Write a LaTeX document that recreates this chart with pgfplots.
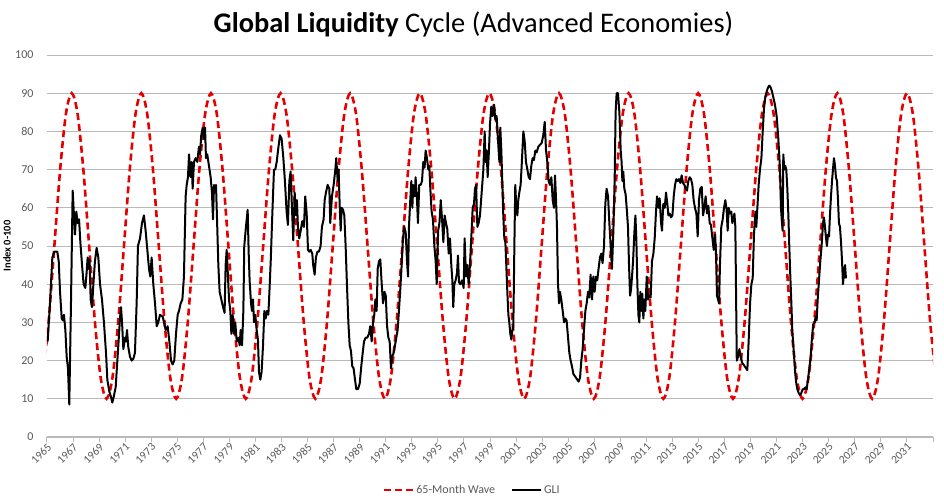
\documentclass[border=0pt]{standalone}
\usepackage{pgfplots}
\pgfplotsset{compat=1.18}
\usepackage{fontspec}
\setmainfont{Carlito}
\definecolor{wavered}{RGB}{228,0,0}
\definecolor{ticktext}{RGB}{89,89,89}
\definecolor{gridgray}{RGB}{185,185,185}
\begin{document}
\begin{tikzpicture}[x=1pt,y=1pt]
\useasboundingbox (-47,-65) rectangle (897,437);
\begin{axis}[
  at={(0,0)}, anchor=south west,
  scale only axis, width=886pt, height=382pt,
  xmin=1965, xmax=2033, ymin=0, ymax=100,
  axis x line*=bottom, axis y line*=left,
  y axis line style={draw=none},
  x axis line style={draw=gridgray, line width=1pt},
  ytick={0,10,...,100},
  ytick style={draw=none},
  ymajorgrids,
  grid style={draw=gridgray, line width=0.9pt},
  xtick={1965,1967,...,2033},
  xticklabels={1965,1967,1969,1971,1973,1975,1977,1979,1981,1983,1985,1987,1989,1991,1993,1995,1997,1999,2001,2003,2005,2007,2009,2011,2013,2015,2017,2019,2021,2023,2025,2027,2029,2031,{}},
  tick align=outside,
  major tick length=5pt,
  xtick style={draw=gridgray, line width=1pt},
  /pgf/number format/assume math mode=true,
  yticklabel style={font=\fontsize{12}{14}\selectfont, text=ticktext, xshift=-5pt},
  xticklabel style={font=\fontsize{11.5}{13}\selectfont, text=ticktext, rotate=45, anchor=east, xshift=3pt, yshift=-4pt},
  ylabel={\bfseries Index 0-100},
  ylabel style={font=\fontsize{10.5}{12}\selectfont, text=black, at={([xshift=-40pt]axis description cs:0,0.5)}, anchor=center},
  legend style={at={(axis description cs:0.48,-0.139)}, anchor=center, draw=none, fill=none,
    font=\fontsize{12}{14}\selectfont, text=ticktext, legend columns=2,
    /tikz/every even column/.append style={column sep=14pt}},
  legend image code/.code={\draw[#1] (0pt,0pt) -- (29pt,0pt);},
]
\addplot[wavered, line width=2.6pt, dash pattern=on 7pt off 4pt, smooth] coordinates {
(1964.674,15.36) (1965.119,30) (1965.564,50) (1966.010,70) (1966.455,84.64)
(1966.900,90) (1967.345,84.64) (1967.790,70) (1968.236,50) (1968.681,30) (1969.126,15.36) (1969.571,10) (1970.016,15.36) (1970.461,30) (1970.907,50) (1971.352,70) (1971.797,84.64)
(1972.242,90) (1972.687,84.64) (1973.132,70) (1973.578,50) (1974.023,30) (1974.468,15.36) (1974.913,10) (1975.358,15.36) (1975.803,30) (1976.249,50) (1976.694,70) (1977.139,84.64)
(1977.584,90) (1978.029,84.64) (1978.474,70) (1978.920,50) (1979.365,30) (1979.810,15.36) (1980.255,10) (1980.700,15.36) (1981.145,30) (1981.591,50) (1982.036,70) (1982.481,84.64)
(1982.926,90) (1983.371,84.64) (1983.816,70) (1984.262,50) (1984.707,30) (1985.152,15.36) (1985.597,10) (1986.042,15.36) (1986.487,30) (1986.933,50) (1987.378,70) (1987.823,84.64)
(1988.268,90) (1988.713,84.64) (1989.158,70) (1989.604,50) (1990.049,30) (1990.494,15.36) (1990.939,10) (1991.384,15.36) (1991.829,30) (1992.275,50) (1992.720,70) (1993.165,84.64)
(1993.610,90) (1994.055,84.64) (1994.500,70) (1994.946,50) (1995.391,30) (1995.836,15.36) (1996.281,10) (1996.726,15.36) (1997.171,30) (1997.617,50) (1998.062,70) (1998.507,84.64)
(1998.952,90) (1999.397,84.64) (1999.842,70) (2000.288,50) (2000.733,30) (2001.178,15.36) (2001.623,10) (2002.068,15.36) (2002.513,30) (2002.959,50) (2003.404,70) (2003.849,84.64)
(2004.294,90) (2004.739,84.64) (2005.184,70) (2005.630,50) (2006.075,30) (2006.520,15.36) (2006.965,10) (2007.410,15.36) (2007.855,30) (2008.301,50) (2008.746,70) (2009.191,84.64)
(2009.636,90) (2010.081,84.64) (2010.526,70) (2010.972,50) (2011.417,30) (2011.862,15.36) (2012.307,10) (2012.752,15.36) (2013.197,30) (2013.643,50) (2014.088,70) (2014.533,84.64)
(2014.978,90) (2015.423,84.64) (2015.868,70) (2016.314,50) (2016.759,30) (2017.204,15.36) (2017.649,10) (2018.094,15.36) (2018.539,30) (2018.985,50) (2019.430,70) (2019.875,84.64)
(2020.320,90) (2020.765,84.64) (2021.210,70) (2021.656,50) (2022.101,30) (2022.546,15.36) (2022.991,10) (2023.436,15.36) (2023.881,30) (2024.327,50) (2024.772,70) (2025.217,84.64)
(2025.662,90) (2026.107,84.64) (2026.552,70) (2026.998,50) (2027.443,30) (2027.888,15.36) (2028.333,10) (2028.778,15.36) (2029.223,30) (2029.669,50) (2030.114,70) (2030.559,84.64)
(2031.004,90) (2031.449,84.64) (2031.894,70) (2032.340,50) (2032.785,30) (2033.230,15.36)
};
\addlegendentry{65-Month Wave}
\addplot[black, line width=2pt, line join=round] coordinates {
(1965.05,25) (1965.23,35) (1965.41,47) (1965.56,48.5) (1965.79,48.5) (1965.90,46) (1966.00,38) (1966.13,31) (1966.23,30.5) (1966.30,32) (1966.41,28) (1966.51,21) (1966.61,18) (1966.71,8.5) (1966.84,35) (1966.97,64.5)
(1967.07,58) (1967.15,53) (1967.25,59) (1967.35,56) (1967.46,57) (1967.56,51) (1967.69,45) (1967.81,40) (1967.94,39) (1968.04,43) (1968.12,47) (1968.20,44) (1968.27,46.5) (1968.35,36) (1968.45,34) (1968.56,40) (1968.68,46) (1968.81,49.5) (1968.94,47)
(1969.07,40) (1969.22,36) (1969.37,30) (1969.53,22) (1969.63,15) (1969.78,12) (1969.91,10.5) (1970.01,9) (1970.12,10.5) (1970.27,13) (1970.40,20) (1970.53,27) (1970.60,31) (1970.68,34) (1970.76,30) (1970.86,23) (1970.99,26)
(1971.06,25) (1971.14,28) (1971.24,23.5) (1971.37,21) (1971.50,20) (1971.63,20.5) (1971.75,22) (1971.88,35) (1971.98,50) (1972.14,52) (1972.29,56) (1972.44,58) (1972.57,54) (1972.70,49) (1972.83,44) (1972.93,42)
(1973.03,47) (1973.16,40) (1973.29,35) (1973.42,29) (1973.54,30) (1973.67,32) (1973.88,31.5) (1973.98,30) (1974.11,28) (1974.26,29) (1974.39,25) (1974.52,20) (1974.64,19) (1974.77,20) (1974.90,27)
(1975.03,32) (1975.13,33) (1975.26,35) (1975.39,36) (1975.51,42) (1975.64,63) (1975.72,66) (1975.82,68) (1975.90,74) (1976.02,68) (1976.10,72) (1976.18,65) (1976.28,72) (1976.41,73) (1976.54,72) (1976.66,76) (1976.74,74) (1976.84,79) (1976.95,81)
(1977.05,78) (1977.13,81) (1977.20,73) (1977.30,74) (1977.43,71) (1977.56,68) (1977.66,64) (1977.74,57) (1977.82,66) (1977.89,64) (1977.97,66) (1978.05,57) (1978.15,45) (1978.25,38) (1978.38,36) (1978.51,34) (1978.63,32.5) (1978.71,45) (1978.79,49) (1978.89,42) (1978.97,36)
(1979.07,33) (1979.15,27) (1979.25,32) (1979.35,27) (1979.45,30) (1979.56,25) (1979.68,26) (1979.79,24) (1979.86,28) (1979.97,24) (1980.07,33) (1980.14,50) (1980.27,55) (1980.40,59.5) (1980.48,48) (1980.55,41) (1980.66,35) (1980.73,33) (1980.81,36) (1980.89,30) (1980.99,32)
(1981.09,28) (1981.19,25.5) (1981.27,17) (1981.37,15) (1981.47,17) (1981.58,24) (1981.68,33) (1981.78,31) (1981.88,33) (1981.99,32) (1982.07,38) (1982.17,46) (1982.29,58) (1982.42,70) (1982.52,70) (1982.63,72) (1982.73,75) (1982.88,79)
(1983.01,78) (1983.14,73) (1983.26,67) (1983.39,59) (1983.49,55.5) (1983.60,67) (1983.70,69.5) (1983.80,60) (1983.90,51.5) (1984.01,64) (1984.11,58) (1984.18,62) (1984.26,55) (1984.36,52) (1984.47,54) (1984.59,56.5) (1984.72,55) (1984.82,63) (1984.93,58.5)
(1985.03,49) (1985.13,48.5) (1985.23,49) (1985.36,48) (1985.43,45) (1985.54,42.5) (1985.64,47) (1985.75,48.5) (1985.87,48.5) (1986.00,50) (1986.10,55) (1986.23,57) (1986.31,62) (1986.41,64) (1986.54,66) (1986.67,65) (1986.74,56) (1986.87,63)
(1987.00,66) (1987.13,70) (1987.20,73) (1987.31,67) (1987.38,70) (1987.46,61) (1987.54,54) (1987.61,60) (1987.72,59.5) (1987.82,58) (1987.92,50) (1988.02,40) (1988.13,30) (1988.23,24) (1988.33,22.5) (1988.43,18.5) (1988.53,18) (1988.64,15) (1988.74,12.5) (1988.87,12.5)
(1989.00,14) (1989.12,18.5) (1989.23,22) (1989.33,25) (1989.46,26) (1989.58,26) (1989.71,27) (1989.81,29) (1989.92,25) (1990.02,30) (1990.12,32) (1990.20,36) (1990.30,33) (1990.38,44) (1990.48,46) (1990.58,46.5) (1990.69,40) (1990.79,35) (1990.90,38)
(1991.00,37) (1991.10,29) (1991.20,26) (1991.30,25) (1991.40,18) (1991.50,21) (1991.60,22) (1991.71,24) (1991.81,26) (1991.91,28) (1992.01,33) (1992.12,39) (1992.22,45) (1992.32,52) (1992.42,55) (1992.53,53.5) (1992.63,46) (1992.71,42) (1992.78,55) (1992.88,62) (1992.96,67)
(1993.04,60) (1993.11,66) (1993.22,63) (1993.29,68) (1993.40,62) (1993.47,56) (1993.57,66) (1993.68,66) (1993.78,67) (1993.88,72) (1993.98,70.5) (1994.06,75) (1994.16,73) (1994.27,70) (1994.34,71) (1994.42,65) (1994.52,59) (1994.62,57) (1994.73,50) (1994.83,46) (1994.91,40)
(1995.02,54) (1995.12,56) (1995.22,62) (1995.32,57) (1995.42,51) (1995.52,58) (1995.62,56) (1995.72,54.5) (1995.83,48) (1995.93,52) (1996.03,45) (1996.11,41) (1996.18,34) (1996.26,40) (1996.36,41) (1996.47,43) (1996.54,47.5) (1996.62,40.5) (1996.72,40) (1996.85,41) (1996.98,39)
(1997.05,52) (1997.16,42) (1997.26,45) (1997.36,40) (1997.46,45) (1997.59,54) (1997.67,60) (1997.77,61) (1997.85,65) (1997.93,66) (1998.03,55) (1998.13,56) (1998.23,58) (1998.36,64) (1998.49,70) (1998.59,80) (1998.67,72) (1998.74,75) (1998.82,68) (1998.92,75)
(1999.00,82) (1999.10,86.5) (1999.20,84) (1999.31,87) (1999.41,83) (1999.51,84) (1999.61,78) (1999.72,72) (1999.79,81) (1999.87,75) (1999.95,66) (2000.02,58) (2000.10,52) (2000.18,51) (2000.25,45) (2000.33,38) (2000.41,32) (2000.48,30) (2000.56,27) (2000.64,25.5) (2000.72,28) (2000.79,29) (2000.87,50) (2000.94,66)
(2001.02,60) (2001.10,58) (2001.17,62) (2001.25,64) (2001.35,66) (2001.43,71) (2001.56,80) (2001.66,77.5) (2001.76,72) (2001.87,70) (2001.97,68) (2002.07,67.5) (2002.17,71) (2002.27,73) (2002.37,72.5) (2002.48,75) (2002.58,74.5) (2002.71,76) (2002.84,76.5) (2002.97,77)
(2003.09,79) (2003.20,82.5) (2003.30,75) (2003.40,72) (2003.50,67) (2003.60,66) (2003.71,68) (2003.81,62) (2003.91,60) (2003.99,68.5) (2004.07,62) (2004.14,55) (2004.22,40) (2004.30,35) (2004.37,38) (2004.47,36) (2004.58,33) (2004.68,30) (2004.78,31) (2004.88,30.5) (2004.99,26)
(2005.09,22) (2005.19,20) (2005.29,18.5) (2005.40,16.5) (2005.50,16) (2005.60,15.5) (2005.70,15) (2005.80,14.5) (2005.91,15.5) (2006.01,20) (2006.11,23) (2006.21,28) (2006.32,33) (2006.42,35) (2006.52,38) (2006.62,36.5) (2006.72,42.5) (2006.83,36) (2006.93,42)
(2007.03,38) (2007.13,42) (2007.23,41) (2007.33,44) (2007.44,47) (2007.54,48) (2007.64,45.5) (2007.75,50) (2007.85,61) (2007.95,65) (2008.06,63) (2008.16,56) (2008.26,50) (2008.36,44) (2008.47,54) (2008.57,68) (2008.64,85) (2008.72,90) (2008.82,90) (2008.93,85)
(2009.03,75) (2009.10,72) (2009.16,67) (2009.23,69.5) (2009.31,65) (2009.41,63.5) (2009.49,60) (2009.59,55) (2009.67,45) (2009.75,37) (2009.82,38.5) (2009.90,42) (2009.98,46) (2010.08,53.5) (2010.16,58) (2010.23,52) (2010.31,40) (2010.39,32) (2010.46,30) (2010.54,38) (2010.62,33) (2010.69,37.5) (2010.77,31) (2010.85,36) (2010.92,33)
(2011.03,42) (2011.13,36) (2011.23,37) (2011.33,36.5) (2011.43,46) (2011.54,48) (2011.64,52) (2011.74,59) (2011.82,63) (2011.92,60) (2012.02,62.5) (2012.13,56) (2012.20,54) (2012.30,61) (2012.41,60) (2012.51,64) (2012.61,61) (2012.69,58) (2012.79,58.5) (2012.89,57.5)
(2013.00,58) (2013.10,63) (2013.20,66) (2013.30,67.5) (2013.40,67) (2013.51,67.5) (2013.61,66.5) (2013.71,68.5) (2013.81,66.5) (2013.92,66) (2014.02,65) (2014.12,64.5) (2014.22,67) (2014.33,68) (2014.43,67.5) (2014.53,66) (2014.63,62) (2014.73,60) (2014.84,58.5) (2014.94,52.5)
(2015.04,62) (2015.14,65) (2015.25,65.5) (2015.35,58) (2015.45,60) (2015.55,63) (2015.66,58.5) (2015.76,60.5) (2015.86,56) (2015.96,55.5) (2016.07,52) (2016.17,49) (2016.27,53) (2016.35,47.5) (2016.42,37) (2016.50,36) (2016.58,35) (2016.65,45) (2016.75,55) (2016.86,57) (2016.96,60)
(2017.06,62) (2017.16,59.5) (2017.24,54) (2017.32,60) (2017.42,58.5) (2017.52,59) (2017.60,56) (2017.68,57) (2017.76,58.5) (2017.83,55) (2017.94,20) (2018.04,21) (2018.14,23) (2018.24,21) (2018.34,19.5) (2018.45,19) (2018.55,18.5) (2018.65,18) (2018.75,17.5) (2018.85,25) (2018.96,35)
(2019.06,40) (2019.16,41.5) (2019.26,53) (2019.37,59) (2019.44,55) (2019.52,60) (2019.62,66) (2019.72,70) (2019.83,73) (2019.93,80) (2020.03,86) (2020.13,89) (2020.24,90.5) (2020.34,91.5) (2020.44,92) (2020.54,91.5) (2020.64,90.5) (2020.74,89) (2020.87,87)
(2021.00,84) (2021.13,78) (2021.26,70) (2021.33,60) (2021.41,56) (2021.46,54) (2021.51,74) (2021.59,70) (2021.66,71) (2021.74,70) (2021.82,65) (2021.90,58) (2021.97,50) (2022.05,42) (2022.13,35) (2022.20,28) (2022.28,24) (2022.36,20) (2022.43,16.5) (2022.51,14) (2022.59,12.5) (2022.69,11.5) (2022.79,11) (2022.89,11.5)
(2023.00,12.5) (2023.10,12.5) (2023.20,13) (2023.30,12.5) (2023.40,15) (2023.51,18) (2023.61,21) (2023.71,26) (2023.81,29.5) (2023.92,30) (2023.99,31.5) (2024.07,30.5) (2024.15,36) (2024.25,41) (2024.35,46) (2024.45,50) (2024.56,56) (2024.63,57.5) (2024.71,55) (2024.79,52) (2024.86,50) (2024.94,53)
(2025.02,52.5) (2025.09,58) (2025.17,63) (2025.25,67) (2025.32,70) (2025.40,73) (2025.48,71) (2025.55,68) (2025.63,67) (2025.71,62) (2025.78,56) (2025.86,55) (2025.94,51) (2026.02,46) (2026.09,40) (2026.17,43) (2026.25,45) (2026.32,41.5)
};
\addlegendentry{GLI}
\end{axis}
\node[anchor=base, font=\fontsize{28.4}{34}\selectfont] at (426.5,404) {\textbf{Global Liquidity} Cycle (Advanced Economies)};
\end{tikzpicture}
\end{document}
